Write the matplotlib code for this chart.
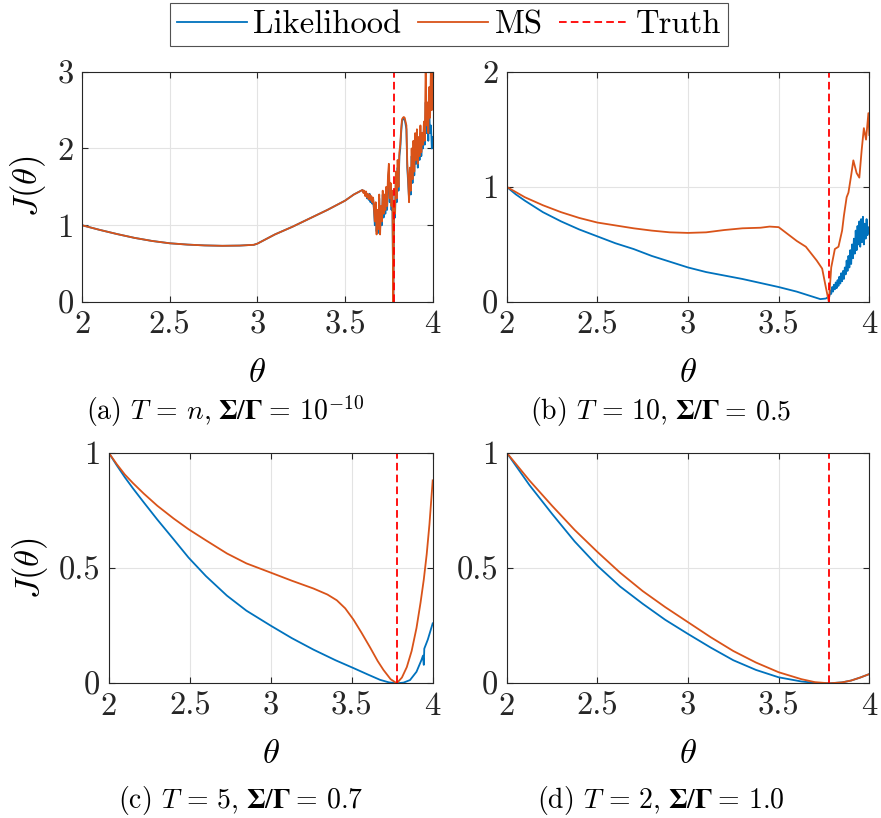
import numpy as np
import matplotlib
matplotlib.use("Agg")
import matplotlib.pyplot as plt
from matplotlib.lines import Line2D

plt.rcParams['font.family'] = 'serif'
plt.rcParams['font.serif'] = ['cmr10']
plt.rcParams['mathtext.fontset'] = 'cm'
plt.rcParams['axes.formatter.use_mathtext'] = True
plt.rcParams['lines.scale_dashes'] = False

BLUE = '#0072BD'
ORANGE = '#D95319'
TRUTH = 3.778

# ---------------- data ----------------
# (a) T = n
a_smooth_theta = [2.0, 2.1, 2.2, 2.3, 2.4, 2.5, 2.6, 2.7, 2.8, 2.9, 2.98, 3.0, 3.05, 3.1, 3.2, 3.3, 3.4, 3.5, 3.55, 3.6]
a_smooth_J = [1.0, 0.94, 0.885, 0.835, 0.795, 0.765, 0.748, 0.737, 0.732, 0.735, 0.745, 0.76, 0.82, 0.88, 0.98, 1.09, 1.2, 1.32, 1.40, 1.46]
a_ms_noise = [1.46, 1.42, 1.45, 1.38, 1.44, 1.36, 1.41, 1.34, 1.40, 1.33, 1.38, 1.30, 1.36, 1.22, 1.05, 1.30,
              0.88, 1.20, 0.95, 1.40, 0.88, 1.25, 1.05, 1.45, 1.15, 1.40, 1.20, 1.50, 1.25, 1.65, 1.80, 1.35,
              1.55, 1.25, 1.45, 0.00, 1.30, 1.15, 1.70, 1.35, 1.85, 1.50, 1.95, 2.05, 2.25, 2.38, 2.40, 2.41,
              2.40, 2.35, 2.30, 1.80, 1.60, 1.30, 1.75, 1.45, 2.00, 1.60, 2.10, 1.70, 2.20, 1.85, 2.25, 1.80,
              2.15, 1.90, 2.30, 1.95, 2.20, 2.05, 2.35, 2.10, 3.10, 2.30, 2.60, 2.20, 2.80, 2.40, 3.10, 2.50, 3.20]
a_lik_noise = [1.46, 1.43, 1.44, 1.39, 1.43, 1.35, 1.40, 1.33, 1.41, 1.30, 1.37, 1.28, 1.35, 1.20, 1.00, 1.28,
               0.92, 1.15, 0.90, 1.35, 0.95, 1.20, 1.00, 1.40, 1.10, 1.35, 1.15, 1.45, 1.20, 1.55, 1.70, 1.30,
               1.50, 1.20, 1.40, 0.00, 1.25, 1.10, 1.60, 1.30, 1.75, 1.45, 1.90, 2.00, 2.20, 2.35, 2.38, 2.40,
               2.38, 2.32, 2.25, 1.75, 1.55, 1.35, 1.70, 1.40, 1.90, 1.55, 2.00, 1.65, 2.10, 1.80, 2.15, 1.75,
               2.10, 1.85, 2.20, 1.90, 2.10, 2.00, 2.25, 2.05, 2.60, 2.20, 2.40, 2.10, 2.50, 2.20, 2.30, 2.00, 2.15]

# (b) T = 10
b_ms_theta = [2.0, 2.1, 2.2, 2.3, 2.4, 2.5, 2.6, 2.7, 2.8, 2.9, 3.0, 3.1, 3.2, 3.3, 3.4, 3.45, 3.5, 3.55, 3.6,
              3.65, 3.68, 3.71, 3.74, 3.76, 3.777, 3.79, 3.81, 3.83, 3.85, 3.86, 3.875, 3.885, 3.9, 3.912,
              3.93, 3.945, 3.958, 3.97, 3.982, 3.995, 4.0]
b_ms_J = [1.00, 0.91, 0.84, 0.78, 0.73, 0.69, 0.665, 0.64, 0.62, 0.605, 0.60, 0.605, 0.625, 0.64, 0.645, 0.655,
          0.65, 0.59, 0.53, 0.48, 0.42, 0.36, 0.29, 0.13, 0.0, 0.30, 0.46, 0.48, 0.62, 0.75, 0.91, 0.95, 1.10,
          1.23, 1.12, 1.08, 1.32, 1.51, 1.41, 1.64, 1.45]
b_lik_theta = [2.0, 2.05, 2.1, 2.2, 2.3, 2.4, 2.5, 2.6, 2.7, 2.8, 2.9, 3.0, 3.1, 3.2, 3.3, 3.4, 3.5, 3.6, 3.7, 3.73, 3.76]
b_lik_J = [1.00, 0.935, 0.88, 0.78, 0.70, 0.63, 0.57, 0.51, 0.46, 0.40, 0.35, 0.30, 0.26, 0.23, 0.20, 0.165, 0.13,
           0.09, 0.04, 0.025, 0.03]
b_lik_noise = [0.05, 0.10, 0.07, 0.13, 0.09, 0.15, 0.11, 0.17, 0.12, 0.19, 0.14, 0.22, 0.16, 0.25, 0.18, 0.27,
               0.20, 0.30, 0.24, 0.36, 0.27, 0.40, 0.30, 0.45, 0.33, 0.50, 0.38, 0.55, 0.42, 0.62, 0.45, 0.66,
               0.50, 0.70, 0.48, 0.72, 0.52, 0.74, 0.50, 0.68, 0.55, 0.72, 0.58, 0.65, 0.60]

# (c) T = 5
c_ms_theta = [2.0, 2.05, 2.1, 2.15, 2.216, 2.3, 2.4, 2.493, 2.6, 2.73, 2.85, 3.0, 3.13, 3.264, 3.35, 3.408, 3.46,
              3.511, 3.56, 3.614, 3.66, 3.696, 3.74, 3.778, 3.81, 3.84, 3.87, 3.9, 3.925, 3.945, 3.963, 3.98, 4.0]
c_ms_J = [1.0, 0.95, 0.905, 0.868, 0.823, 0.77, 0.715, 0.668, 0.62, 0.563, 0.52, 0.48, 0.445, 0.411, 0.385, 0.36,
          0.325, 0.276, 0.22, 0.155, 0.097, 0.058, 0.018, 0.0, 0.025, 0.07, 0.14, 0.24, 0.35, 0.45, 0.56, 0.69, 0.88]
c_lik_theta = [2.0, 2.05, 2.1, 2.15, 2.216, 2.3, 2.4, 2.493, 2.6, 2.73, 2.85, 3.0, 3.13, 3.264, 3.4, 3.511, 3.6,
               3.675, 3.73, 3.778, 3.82, 3.86, 3.9, 3.93, 3.94, 3.945, 3.948, 3.97, 4.0]
c_lik_J = [1.0, 0.945, 0.893, 0.845, 0.785, 0.71, 0.625, 0.545, 0.465, 0.38, 0.315, 0.25, 0.196, 0.146, 0.10,
           0.066, 0.038, 0.015, 0.004, 0.0, 0.003, 0.014, 0.05, 0.10, 0.12, 0.08, 0.15, 0.19, 0.26]

# (d) T = 2
d_theta = [2.0, 2.125, 2.25, 2.375, 2.5, 2.625, 2.75, 2.875, 3.0, 3.125, 3.25, 3.375, 3.5, 3.625, 3.7, 3.78,
           3.85, 3.9, 3.95, 4.0]
d_ms_J = [1.0, 0.88, 0.77, 0.665, 0.57, 0.48, 0.40, 0.33, 0.265, 0.20, 0.14, 0.09, 0.048, 0.018, 0.005, 0.0,
          0.004, 0.012, 0.025, 0.04]
d_lik_J = [1.0, 0.86, 0.735, 0.615, 0.51, 0.42, 0.345, 0.275, 0.214, 0.155, 0.10, 0.058, 0.026, 0.008, 0.002, 0.0,
           0.004, 0.012, 0.025, 0.04]

panel_tags = ['(a)', '(b)', '(c)', '(d)']
cap_T = ['n', '10', '5', '2']
cap_ratio = ['10^{-10}', '0.5', '0.7', '1.0']
x_ticks = [2, 2.5, 3, 3.5, 4]
x_ticklabels = ['2', '2.5', '3', '3.5', '4']

# ---------------- figure ----------------
W, H = 881, 818
fig = plt.figure(figsize=(W / 100, H / 100), dpi=100)

def add_ax(l, r, t, b):
    return fig.add_axes([l / W, 1 - b / H, (r - l) / W, (b - t) / H])

axA = add_ax(82, 432.7, 71.7, 302)
axB = add_ax(506.7, 869.3, 71.7, 302)
axC = add_ax(108.7, 432.7, 452.7, 683.3)
axD = add_ax(506.7, 869.3, 452.7, 683.3)

LW = 1.3
TICKFS = 23.5
LABFS = 25

a_noise_theta = np.linspace(3.6, 4.0, len(a_ms_noise))
axA.plot(a_smooth_theta + list(a_noise_theta), a_smooth_J + a_lik_noise, color=BLUE, lw=LW)
axA.plot(a_smooth_theta + list(a_noise_theta), a_smooth_J + a_ms_noise, color=ORANGE, lw=LW)

b_noise_theta = np.linspace(3.78, 4.0, len(b_lik_noise))
axB.plot(b_lik_theta + list(b_noise_theta), b_lik_J + b_lik_noise, color=BLUE, lw=LW)
axB.plot(b_ms_theta, b_ms_J, color=ORANGE, lw=LW)

axC.plot(c_lik_theta, c_lik_J, color=BLUE, lw=LW)
axC.plot(c_ms_theta, c_ms_J, color=ORANGE, lw=LW)

axD.plot(d_theta, d_lik_J, color=BLUE, lw=LW)
axD.plot(d_theta, d_ms_J, color=ORANGE, lw=LW)

ylims = [(0, 3), (0, 2), (0, 1), (0, 1)]
yticks = [([0, 1, 2, 3], ['0', '1', '2', '3']),
          ([0, 1, 2], ['0', '1', '2']),
          ([0, 0.5, 1], ['0', '0.5', '1']),
          ([0, 0.5, 1], ['0', '0.5', '1'])]

for i, ax in enumerate([axA, axB, axC, axD]):
    ax.axvline(TRUTH, color='#FF0000', lw=LW, dashes=(5.5, 3))
    ax.set_xlim(2, 4)
    ax.set_ylim(*ylims[i])
    ax.set_xticks(x_ticks)
    ax.set_xticklabels(x_ticklabels)
    ax.set_yticks(yticks[i][0])
    ax.set_yticklabels(yticks[i][1])
    ax.grid(True, color='#e3e3e3', lw=0.8)
    ax.set_axisbelow(True)
    ax.tick_params(direction='in', top=True, right=True, length=4, width=0.8,
                   labelsize=TICKFS, colors='#262626', pad=6)
    for s in ax.spines.values():
        s.set_color('#262626')
        s.set_linewidth(0.8)
    ax.set_xlabel(r'$\theta$', fontsize=LABFS)
    ax.xaxis.set_label_coords(0.5, -0.24)

for ax, xpix in [(axA, 28), (axC, 30)]:
    ax.set_ylabel(r'$J(\theta)$', fontsize=LABFS, va='center')
    bb = ax.get_position()
    ax.yaxis.set_label_coords((xpix / W - bb.x0) / bb.width, 0.5)

# ---------------- captions (mixed fonts for bold Greek) ----------------
renderer = fig.canvas.get_renderer()
CAPFS = 20

def rich_caption(cx, cy, pieces):
    objs = []
    total = 0.0
    for txt, mf, gap in pieces:
        t = fig.text(0, 1 - cy / H, txt, fontsize=CAPFS, math_fontfamily=mf, va='baseline', ha='left')
        w = t.get_window_extent(renderer).width
        objs.append((t, gap, w))
        total += gap + w
    x = cx - total / 2
    for t, gap, w in objs:
        x += gap
        t.set_x(x / W)
        x += w

cap_pos = [(225, 419), (661, 419), (241, 808), (661, 808)]
for k, (cx, cy) in enumerate(cap_pos):
    rich_caption(cx, cy, [
        (panel_tags[k] + r' $T\,=\,' + cap_T[k] + r'$,', 'cm', 0),
        (r'$\mathbf{\Sigma}/\mathbf{\Gamma}$', 'stix', 7),
        (r'$=\,' + cap_ratio[k] + r'$', 'cm', 1),
    ])

handles = [Line2D([], [], color=BLUE, lw=LW),
           Line2D([], [], color=ORANGE, lw=LW),
           Line2D([], [], color='#FF0000', lw=LW, dashes=(5.5, 3))]
leg = fig.legend(handles, ['Likelihood', 'MS', 'Truth'], loc='center', ncol=3,
                 bbox_to_anchor=(449 / W, 1 - 24.5 / H), fontsize=23.5, frameon=True,
                 fancybox=False, edgecolor='#262626', handlelength=2.15, handletextpad=0.2,
                 columnspacing=0.5, borderpad=0.2, borderaxespad=0)
leg.get_frame().set_linewidth(0.8)

fig.savefig('out.png', dpi=100)
